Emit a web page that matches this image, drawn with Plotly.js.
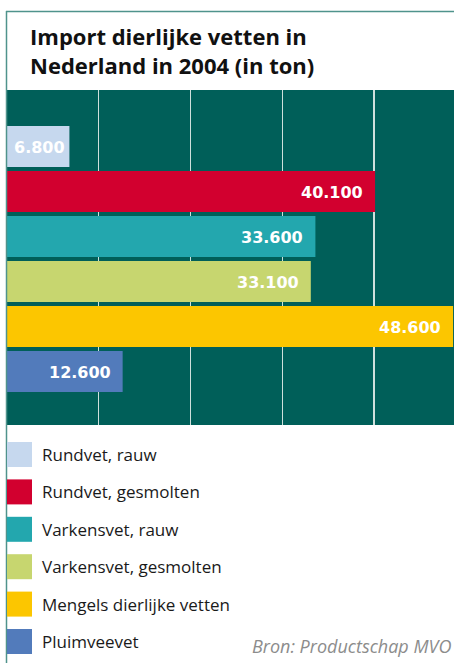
<!DOCTYPE html>
<html>
<head>
<meta charset="utf-8">
<script src="https://cdn.plot.ly/plotly-3.0.1.min.js"></script>
<style>html,body{margin:0;padding:0;background:#fff;}#chart{width:454px;height:663px;}</style>
</head>
<body>
<div id="chart"></div>
<script>
// Data
var categories = ["Rundvet, rauw", "Rundvet, gesmolten", "Varkensvet, rauw", "Varkensvet, gesmolten", "Mengels dierlijke vetten", "Pluimveevet"];
var values = [6800, 40100, 33600, 33100, 48600, 12600];
var valueLabels = ["6.800", "40.100", "33.600", "33.100", "48.600", "12.600"];
var colors = ["#c6d8ee", "#d2002f", "#23a7ae", "#c7d66f", "#fcc600", "#527bbb"];
var gridValues = [10000, 20000, 30000, 40000];
var titleText = "Import dierlijke vetten in<br>Nederland in 2004 (in ton)";
var sourceText = "Bron: Productschap MVO";

var W = 454, H = 663;
var M = {l: 7, r: 0, t: 90, b: 238};
var plotW = W - M.l - M.r, plotH = H - M.t - M.b;
function px(x) { return (x - M.l) / plotW; }
function py(y) { return (H - M.b - y) / plotH; }

var trace = {
  type: "bar",
  orientation: "h",
  y: categories,
  x: values,
  marker: {color: colors, line: {width: 0}},
  showlegend: false,
  hoverinfo: "none"
};

var annotations = [];
for (var i = 0; i < values.length; i++) {
  annotations.push({
    x: values[i], y: categories[i], xref: "x", yref: "y",
    text: "<b>" + valueLabels[i] + "</b>",
    showarrow: false, xanchor: "right", yanchor: "middle",
    xshift: values[i] < 10000 ? -2 : -10, yshift: -1,
    font: {family: "DejaVu Sans", size: 16, color: "#ffffff"}
  });
}

var shapes = [
  {type: "line", xref: "paper", yref: "paper", x0: px(6.5), x1: px(6.5), y0: py(11), y1: py(H), line: {color: "#4f938c", width: 1.5}, layer: "above"},
  {type: "line", xref: "paper", yref: "paper", x0: px(6), x1: px(W), y0: py(11.5), y1: py(11.5), line: {color: "#4f938c", width: 1.5}, layer: "above"}
];

var legTop = 442, legPitch = 37.4, sq = 25;
for (var j = 0; j < categories.length; j++) {
  var rowTop = legTop + j * legPitch;
  shapes.push({type: "rect", xref: "paper", yref: "paper", x0: px(7), x1: px(7 + sq), y0: py(rowTop + sq), y1: py(rowTop), fillcolor: colors[j], line: {width: 0}});
  annotations.push({
    xref: "paper", yref: "paper", x: px(40), y: py(rowTop + sq / 2),
    text: categories[j], showarrow: false, xanchor: "left", yanchor: "middle",
    font: {family: "Open Sans", size: 17, color: "#1a1a1a"}
  });
}

annotations.push({
  xref: "paper", yref: "paper", x: px(453), y: py(660),
  text: "<i>" + sourceText + "</i>", showarrow: false, xanchor: "right", yanchor: "bottom",
  font: {family: "Open Sans", size: 18, color: "#8c8c8c"}
});

var layout = {
  width: W, height: H,
  margin: M,
  paper_bgcolor: "#ffffff",
  plot_bgcolor: "#005f59",
  title: {
    text: "<b>" + titleText + "</b>",
    x: 30 / W, xref: "container", xanchor: "left",
    y: 1 - 45 / H, yref: "container", yanchor: "top",
    font: {family: "Open Sans", size: 22, color: "#111111"}
  },
  bargap: 0.09,
  xaxis: {range: [0, 48700], tickvals: gridValues, showticklabels: false, ticks: "", showgrid: true, gridcolor: "#cfe0dc", gridwidth: 1.3, zeroline: false, showline: false, fixedrange: true},
  yaxis: {type: "category", categoryorder: "array", categoryarray: categories, range: [6.19, -1.256], showticklabels: false, ticks: "", showgrid: false, zeroline: false, showline: false, fixedrange: true},
  shapes: shapes,
  annotations: annotations,
  showlegend: false
};

Plotly.newPlot("chart", [trace], layout, {displayModeBar: false, staticPlot: true});
</script>
</body>
</html>
